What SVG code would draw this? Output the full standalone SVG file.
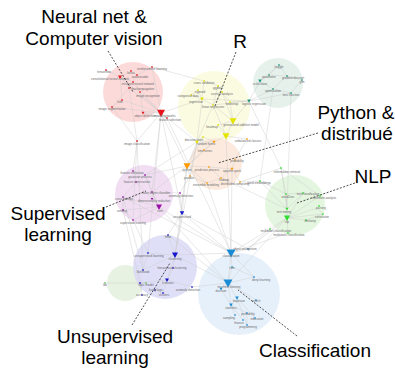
<svg xmlns="http://www.w3.org/2000/svg" width="395" height="371" viewBox="0 0 395 371">
<style>
.e{stroke:#cbcbcb;stroke-width:0.45;fill:none}
.l{font-family:"Liberation Sans",Arial,sans-serif;font-size:3px;fill:#6a6a6a;text-anchor:middle}
.big{font-family:"Liberation Sans",Arial,sans-serif;font-size:19px;fill:#000;text-anchor:middle}
.lead{stroke:#222;stroke-width:0.8;stroke-dasharray:2 1.5;fill:none}
.hull{opacity:0.85}
.R use{fill:#e8141c}.Y use{fill:#e4e400}.T use{fill:#1c9c7c}.O use{fill:#ff9a00}
.P use{fill:#9a10a8}.G use{fill:#30dd30}.B use{fill:#1414cc}.C use{fill:#1a8cd6}.LG use{fill:#60c060}
</style>
<defs>
<path id="t" d="M-1,-0.8H1L0,1Z"/>
<rect id="d" x="-0.75" y="-0.75" width="1.5" height="1.5"/>
</defs>
<rect width="395" height="371" fill="#fff"/>
<g id="clusters">
<circle class="hull" cx="133" cy="92" r="30" fill="#fbd3d3"/>
<circle class="hull" cx="214" cy="107" r="36" fill="#fafadc"/>
<circle class="hull" cx="278" cy="83" r="25" fill="#e2eee9"/>
<circle class="hull" cx="216" cy="164" r="26" fill="#fbe6d8"/>
<circle class="hull" cx="144" cy="194" r="29" fill="#eed8f1"/>
<circle class="hull" cx="295" cy="205" r="30" fill="#e1f5da"/>
<circle class="hull" cx="125" cy="283" r="18" fill="#e4f0dd"/>
<circle class="hull" cx="165" cy="267" r="32" fill="#d9d9f7"/>
<circle class="hull" cx="239" cy="294" r="41" fill="#e2edf9"/>
</g>
<g id="connectors">
<path class="e" d="M161,113L120,77M161,113L133,82M161,113L129,88M161,113L140,92M161,113L143,113M161,113L167,118M161,113L122,100M161,113L152,67M161,113L112,107M120,77L106,70M120,77L131,71M120,77L133,82M120,77L129,88M120,77L122,100M133,82L137,75M137,75L152,67M129,88L112,107M140,92L143,113M122,100L112,107M137,141L112,107M137,141L161,113M143,113L167,118M131,71L137,75M129,88L137,141"/>
<path class="e" d="M161,113L202,99M161,113L197,142M161,113L187,166M161,113L182,213M161,113L152,192M167,118L231,253M152,67L204,81M137,141L133,171M137,141L133,220M161,113L148,253M137,141L143,270"/>
<path class="e" d="M202,99L204,81M202,99L198,90M202,99L191,95M202,99L213,105M213,105L218,86M213,105L222,92M213,105L233,121M233,121L222,92M233,121L230,102M233,121L218,125M226,136L233,121M226,136L213,105M226,136L218,125M197,142L202,99M197,142L213,105M197,142L203,137M203,137L214,142M230,102L249,101M204,81L218,86M218,86L222,92M198,90L191,95M197,142L214,142M226,136L214,142M226,136L247,139M233,121L249,101M213,105L249,101M222,92L230,102"/>
<path class="e" d="M197,142L187,166M197,142L145,175M197,142L190,176M226,136L231,253M197,142L175,255M203,137L187,166"/>
<path class="e" d="M260,81L279,65M260,81L269,75M260,81L273,89M269,75L279,65M269,75L287,76M273,89L287,76M273,89L291,93M287,76L302,80M291,93L302,80M249,101L260,81M249,101L273,89M249,101L291,93M279,65L287,76M249,101L281,168M273,89L260,181M249,101L202,99M291,93L287,209"/>
<path class="e" d="M187,166L204,150M187,166L209,167M187,166L190,176M187,166L207,183M187,166L214,142M209,167L232,169M232,169L235,160M232,169L221,178M232,169L240,182M221,178L207,183M204,150L214,142M209,167L221,178M235,160L247,139M190,176L207,183"/>
<path class="e" d="M240,182L260,181M240,182L281,168M187,166L145,175M187,166L152,192M187,166L182,213M187,166L175,255M190,176L180,193M207,183L231,253M221,178L287,209M232,169L231,253"/>
<path class="e" d="M159,207L152,199M159,207L152,192M159,207L145,175M159,207L123,197M159,207L133,220M159,207L123,210M152,199L152,192M152,199L136,182M145,175L133,171M136,182L133,171M123,197L123,210M123,197L136,182M133,220L123,210M152,192L180,193M145,175L152,192"/>
<path class="e" d="M159,207L228,283M159,207L231,253M133,220L148,253M123,210L140,283M123,197L143,270M180,193L182,213M123,197L231,253"/>
<path class="e" d="M175,255L148,253M175,255L173,268M175,255L167,280M175,255L168,235M175,255L143,270M167,280L173,268M167,280L155,290M167,280L163,293M167,280L140,283M140,283L142,295M155,290L163,293M182,213L175,255M192,287L167,280M148,253L143,270M168,235L182,213"/>
<path class="e" d="M175,255L228,283M175,255L231,253M192,287L228,283M182,213L231,253M140,283L146,283M105,283L146,283M182,213L248,249M168,235L228,283"/>
<path class="e" d="M231,253L248,249M231,253L232,267M231,253L228,283M228,283L232,267M228,283L254,277M228,283L221,289M228,283L237,298M228,283L256,300M228,283L231,305M237,298L231,305M231,305L235,315M231,305L243,320M231,305L247,313M237,298L255,318M237,298L247,325M247,313L247,325M254,277L231,253M221,289L231,305M232,267L254,277"/>
<path class="e" d="M248,249L270,229M231,253L288,233M228,283L287,218M248,249L287,218M231,253L270,229"/>
<path class="e" d="M287,218L287,209M287,218L286,194M287,218L303,193M287,218L320,196M287,218L317,208M287,218L323,214M287,218L306,220M287,209L286,194M287,209L303,193M287,209L281,168M287,209L260,181M303,193L320,196M286,194L303,193M323,214L317,208M270,229L287,218M288,233L287,218M281,168L286,194M260,181L286,194M306,220L323,214M281,168L320,196"/>
</g>
<g id="n-tensorflow" class="R"><use href="#d" transform="translate(106,70)"/><text class="l" x="104" y="73">tensorflow</text></g>
<g id="n-cnn" class="R"><use href="#t" transform="translate(120,77) scale(2)"/><text class="l" x="110" y="80">convolutional neural network</text></g>
<g id="n-keras" class="R"><use href="#d" transform="translate(131,71)"/><text class="l" x="131" y="74">keras</text></g>
<g id="n-rl" class="R"><use href="#d" transform="translate(152,67)"/><text class="l" x="152" y="70">reinforcement learning</text></g>
<g id="n-autoencoder" class="R"><use href="#d" transform="translate(137,75)"/><text class="l" x="140" y="78">autoencoder</text></g>
<g id="n-rnn" class="R"><use href="#d" transform="translate(133,82)"/><text class="l" x="138" y="85">recurrent neural network</text></g>
<g id="n-backprop" class="R"><use href="#d" transform="translate(129,88)"/><text class="l" x="143" y="90">backpropagation</text></g>
<g id="n-imgrec" class="R"><use href="#d" transform="translate(140,92)"/><text class="l" x="148" y="97">image recognition</text></g>
<g id="n-lstm" class="R"><use href="#d" transform="translate(122,100)"/><text class="l" x="120" y="103">lstm</text></g>
<g id="n-imgseg" class="R"><use href="#d" transform="translate(112,107)"/><text class="l" x="112" y="110">image segmentation</text></g>
<g id="n-objdet" class="R"><use href="#t" transform="translate(143,113) scale(1.5)"/><text class="l" x="145" y="117">object detection</text></g>
<g id="n-neuralnet" class="R"><use href="#t" transform="translate(161,113) scale(4)"/><text class="l" x="165" y="117">neural networks</text></g>
<g id="n-featsel" class="R"><use href="#d" transform="translate(167,118)"/><text class="l" x="170" y="121">feature selection</text></g>
<g id="n-imgclass" class="R"><use href="#d" transform="translate(137,141)"/><text class="l" x="137" y="145">image classification</text></g>
<g id="n-cv" class="Y"><use href="#d" transform="translate(204,81)"/><text class="l" x="204" y="84">cross validation</text></g>
<g id="n-ggplot" class="Y"><use href="#d" transform="translate(218,86)"/><text class="l" x="218" y="89">ggplot2</text></g>
<g id="n-survival" class="Y"><use href="#d" transform="translate(222,92)"/><text class="l" x="222" y="95">survival analysis</text></g>
<g id="n-sigmoid" class="Y"><use href="#d" transform="translate(198,90)"/><text class="l" x="200" y="93">sigmoid</text></g>
<g id="n-catdata" class="Y"><use href="#d" transform="translate(191,95)"/><text class="l" x="188" y="97">categorical data</text></g>
<g id="n-regression" class="Y"><use href="#t" transform="translate(202,99) scale(1.8)"/><text class="l" x="196" y="103">regression</text></g>
<g id="n-linreg" class="Y"><use href="#d" transform="translate(213,105)"/><text class="l" x="213" y="108">linear regression</text></g>
<g id="n-bootstrap" class="Y"><use href="#d" transform="translate(230,102)"/><text class="l" x="232" y="105">bootstrap</text></g>
<g id="n-gam" class="Y"><use href="#t" transform="translate(233,121) scale(3.5)"/><text class="l" x="241" y="126">generalized additive model</text></g>
<g id="n-heatmap" class="Y"><use href="#d" transform="translate(218,125)"/><text class="l" x="212" y="128">heatmap</text></g>
<g id="n-glm" class="Y"><use href="#t" transform="translate(226,136) scale(3.5)"/></g>
<g id="n-dtree" class="Y"><use href="#t" transform="translate(197,142) scale(2)"/><text class="l" x="194" y="141">decision trees</text></g>
<g id="n-rfeat" class="Y"><use href="#d" transform="translate(203,137)"/></g>
<g id="n-teal-kaggle" class="T"><use href="#d" transform="translate(279,65)"/><text class="l" x="279" y="68">kaggle</text></g>
<g id="n-parameter" class="T"><use href="#d" transform="translate(269,75)"/><text class="l" x="269" y="78">parameter</text></g>
<g id="n-scikit" class="T"><use href="#t" transform="translate(260,81) scale(1.8)"/><text class="l" x="260" y="85">scikit-learn</text></g>
<g id="n-graddesc" class="T"><use href="#d" transform="translate(287,76)"/><text class="l" x="293" y="79">gradient descent</text></g>
<g id="n-glmt" class="T"><use href="#d" transform="translate(302,80)"/><text class="l" x="302" y="83">glm</text></g>
<g id="n-optim" class="T"><use href="#d" transform="translate(273,89)"/><text class="l" x="273" y="92">optimization</text></g>
<g id="n-loss" class="T"><use href="#d" transform="translate(291,93)"/><text class="l" x="291" y="96">loss function</text></g>
<g id="n-logreg" class="T"><use href="#t" transform="translate(249,101) scale(1.8)"/><text class="l" x="254" y="105">logistic regression</text></g>
<g id="n-rf" class="O"><use href="#t" transform="translate(214,142) scale(1.5)"/><text class="l" x="206" y="145">random forest</text></g>
<g id="n-unbal" class="O"><use href="#d" transform="translate(247,139)"/><text class="l" x="248" y="142">unbalanced classes</text></g>
<g id="n-ts" class="O"><use href="#d" transform="translate(204,150)"/><text class="l" x="205" y="152">time series</text></g>
<g id="n-python" class="O"><use href="#t" transform="translate(187,166) scale(3.5)"/><text class="l" x="187" y="171">python</text></g>
<g id="n-pred" class="O"><use href="#d" transform="translate(209,167)"/><text class="l" x="207" y="171">prediction process</text></g>
<g id="n-pandas" class="O"><use href="#d" transform="translate(190,176)"/><text class="l" x="189" y="179">pandas</text></g>
<g id="n-prob" class="O"><use href="#d" transform="translate(235,160)"/><text class="l" x="237" y="162">probability</text></g>
<g id="n-spark" class="O"><use href="#t" transform="translate(232,169) scale(1.5)"/><text class="l" x="232" y="172">apache spark</text></g>
<g id="n-hadoop" class="O"><use href="#d" transform="translate(221,178)"/><text class="l" x="224" y="181">hadoop</text></g>
<g id="n-ensemble" class="O"><use href="#d" transform="translate(207,183)"/><text class="l" x="206" y="186">ensemble modeling</text></g>
<g id="n-distcomp" class="O"><use href="#d" transform="translate(240,182)"/><text class="l" x="235" y="185">distributed computing</text></g>
<g id="n-featext" class="P"><use href="#d" transform="translate(133,171)"/><text class="l" x="132" y="174">feature extraction</text></g>
<g id="n-gp" class="P"><use href="#d" transform="translate(145,175)"/><text class="l" x="140" y="178">gaussian process</text></g>
<g id="n-featcon" class="P"><use href="#d" transform="translate(136,182)"/><text class="l" x="137" y="183">feature construction</text></g>
<g id="n-nbc" class="P"><use href="#d" transform="translate(152,192)"/><text class="l" x="156" y="194">naive bayes classifier</text></g>
<g id="n-crossent" class="P"><use href="#d" transform="translate(123,197)"/><text class="l" x="124" y="200">cross entropy</text></g>
<g id="n-dimred" class="P"><use href="#t" transform="translate(152,199) scale(1.3)"/><text class="l" x="154" y="202">dimensionality reduction</text></g>
<g id="n-svm" class="P"><use href="#t" transform="translate(159,207) scale(3)"/><text class="l" x="160" y="212">svm</text></g>
<g id="n-ranking" class="P"><use href="#d" transform="translate(123,210)"/><text class="l" x="122" y="212">ranking</text></g>
<g id="n-suplearn" class="P"><use href="#d" transform="translate(133,220)"/><text class="l" x="133" y="224">supervised learning</text></g>
<g id="n-anomaly" class="P"><use href="#d" transform="translate(180,193)"/><text class="l" x="181" y="197">anomaly detection</text></g>
<g id="n-unsup" class="B"><use href="#t" transform="translate(182,213) scale(2.2)"/><text class="l" x="182" y="218">unsupervised</text></g>
<g id="n-hmm" class="B"><use href="#d" transform="translate(168,235)"/><text class="l" x="168" y="238">hmm</text></g>
<g id="n-unsuplearn" class="B"><use href="#d" transform="translate(148,253)"/><text class="l" x="149" y="257">unsupervised learning</text></g>
<g id="n-clustering" class="B"><use href="#t" transform="translate(175,255) scale(3)"/><text class="l" x="175" y="260">clustering</text></g>
<g id="n-likelihood" class="B"><use href="#d" transform="translate(143,270)"/><text class="l" x="143" y="273">likelihood</text></g>
<g id="n-hclust" class="B"><use href="#d" transform="translate(173,268)"/><text class="l" x="172" y="269">hierarchical clustering</text></g>
<g id="n-kmeans" class="B"><use href="#t" transform="translate(167,280) scale(2)"/><text class="l" x="168" y="284">k-means</text></g>
<g id="n-topic" class="B"><use href="#d" transform="translate(140,283)"/><text class="l" x="146" y="286">topic model</text></g>
<g id="n-fuzzy" class="B"><use href="#d" transform="translate(155,290)"/><text class="l" x="156" y="291">fuzzy logic</text></g>
<g id="n-accuracy" class="B"><use href="#d" transform="translate(142,295)"/><text class="l" x="142" y="296">accuracy</text></g>
<g id="n-clusters" class="B"><use href="#d" transform="translate(163,293)"/><text class="l" x="164" y="296">clusters</text></g>
<g id="n-anomaly2" class="B"><use href="#d" transform="translate(192,287)"/><text class="l" x="188" y="291">anomaly detection</text></g>
<g id="n-lda" class="LG"><use href="#d" transform="translate(105,283)"/><text class="l" x="105" y="286">lda</text></g>
<g id="n-lg2" class="LG"><use href="#d" transform="translate(146,283)"/></g>
<g id="n-objrec" class="C"><use href="#d" transform="translate(248,249)"/><text class="l" x="245" y="250">object recognition</text></g>
<g id="n-classification" class="C"><use href="#t" transform="translate(231,253) scale(4.5)"/><text class="l" x="231" y="257">classification</text></g>
<g id="n-svm2" class="C"><use href="#d" transform="translate(232,267)"/><text class="l" x="232" y="269">svm</text></g>
<g id="n-deeplearn" class="C"><use href="#d" transform="translate(254,277)"/><text class="l" x="261" y="281">deep learning</text></g>
<g id="n-ml" class="C"><use href="#t" transform="translate(228,283) scale(4.5)"/><text class="l" x="229" y="288">machine learning</text></g>
<g id="n-decision" class="C"><use href="#t" transform="translate(221,289) scale(1.5)"/><text class="l" x="221" y="292">decision</text></g>
<g id="n-bayes" class="C"><use href="#t" transform="translate(237,298) scale(1.8)"/><text class="l" x="239" y="302">bayesian</text></g>
<g id="n-search" class="C"><use href="#d" transform="translate(256,300)"/><text class="l" x="256" y="302">search</text></g>
<g id="n-stats" class="C"><use href="#t" transform="translate(231,305) scale(1.8)"/><text class="l" x="231" y="309">statistics</text></g>
<g id="n-prob2" class="C"><use href="#d" transform="translate(247,313)"/><text class="l" x="248" y="315">probability</text></g>
<g id="n-edu" class="C"><use href="#d" transform="translate(255,318)"/><text class="l" x="257" y="320">education</text></g>
<g id="n-sampling" class="C"><use href="#d" transform="translate(235,315)"/><text class="l" x="229" y="319">sampling</text></g>
<g id="n-finance" class="C"><use href="#d" transform="translate(243,320)"/><text class="l" x="239" y="324">finance</text></g>
<g id="n-prog" class="C"><use href="#d" transform="translate(247,325)"/><text class="l" x="248" y="328">programming</text></g>
<g id="n-ir" class="G"><use href="#d" transform="translate(281,168)"/><text class="l" x="287" y="173">information retrieval</text></g>
<g id="n-wordemb" class="G"><use href="#d" transform="translate(260,181)"/><text class="l" x="259" y="184">word embeddings</text></g>
<g id="n-w2v" class="G"><use href="#d" transform="translate(286,194)"/><text class="l" x="288" y="198">word2vec</text></g>
<g id="n-textclass" class="G"><use href="#d" transform="translate(303,193)"/><text class="l" x="308" y="195">text classification</text></g>
<g id="n-sentiment" class="G"><use href="#d" transform="translate(320,196)"/><text class="l" x="324" y="199">sentiment analysis</text></g>
<g id="n-textmining" class="G"><use href="#t" transform="translate(287,209) scale(1.5)"/><text class="l" x="284" y="213">text mining</text></g>
<g id="n-nlp" class="G"><use href="#t" transform="translate(287,218) scale(3)"/><text class="l" x="287" y="223">nlp</text></g>
<g id="n-parsing" class="G"><use href="#d" transform="translate(319,206)"/><text class="l" x="321" y="209">parsing</text></g>
<g id="n-corr" class="G"><use href="#d" transform="translate(323,214)"/><text class="l" x="322" y="218">correlation</text></g>
<g id="n-sim" class="G"><use href="#d" transform="translate(306,220)"/><text class="l" x="310" y="222">similarity</text></g>
<g id="n-multilabel" class="G"><use href="#d" transform="translate(270,229)"/><text class="l" x="276" y="232">multilabel classification</text></g>
<g id="n-multiclass" class="G"><use href="#d" transform="translate(288,233)"/><text class="l" x="289" y="236">multiclass classification</text></g>
<g id="leaders">
<path class="lead" d="M108,51L133,92"/>
<path class="lead" d="M236,52L215,106"/>
<path class="lead" d="M318,133L218,163"/>
<path class="lead" d="M355,183L297,203"/>
<path class="lead" d="M106,207L146,191"/>
<path class="lead" d="M132,325L170,263"/>
<path class="lead" d="M297,336L238,290"/>
</g>
<g id="labels">
<text class="big" x="94" y="23">Neural net &amp;</text>
<text class="big" x="94" y="45">Computer vision</text>
<text class="big" x="240" y="48">R</text>
<text class="big" x="356" y="119">Python &amp;</text>
<text class="big" x="357" y="140">distribué</text>
<text class="big" x="373" y="183">NLP</text>
<text class="big" x="58" y="220">Supervised</text>
<text class="big" x="58" y="241">learning</text>
<text class="big" x="115" y="343">Unsupervised</text>
<text class="big" x="115" y="364">learning</text>
<text class="big" x="315" y="357">Classification</text>
</g>
</svg>
